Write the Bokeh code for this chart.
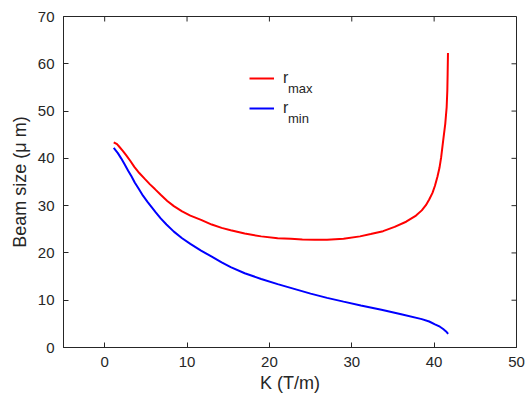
import math
from bokeh.plotting import figure
from bokeh.models import Range1d, FixedTicker, Legend, LegendItem, Label
from bokeh.embed import file_html
from bokeh.resources import INLINE

# ---- data ----
k_rmax = [1.1, 1.5, 1.8, 2.2, 2.6, 3.1, 3.6, 4.2, 4.9, 5.5, 6.1, 6.8, 7.6, 8.4, 9.4, 10.4,
          11.7, 13.0, 14.2, 15.3, 17.0, 19.0, 21.0, 22.6, 24.0, 25.5, 27.0, 29.0, 31.0, 32.3,
          33.8, 35.2, 36.6, 37.8, 38.5, 39.0, 39.4, 39.8, 40.1, 40.4, 40.65, 40.85, 41.1,
          41.35, 41.52, 41.6, 41.64, 41.68]
r_max = [43.4, 43.0, 42.4, 41.6, 40.7, 39.5, 38.2, 36.9, 35.6, 34.5, 33.5, 32.3, 31.0, 29.9, 28.8, 27.9,
         27.0, 26.0, 25.3, 24.8, 24.1, 23.5, 23.1, 23.0, 22.85, 22.8, 22.8, 23.0, 23.5, 24.0,
         24.6, 25.5, 26.6, 27.9, 29.0, 30.1, 31.3, 32.7, 34.2, 36.1, 38.0, 40.2, 43.8,
         47.3, 50.8, 54.3, 57.9, 62.3]

k_rmin = [1.1, 1.6, 2.0, 2.4, 2.85, 3.25, 3.65, 4.15, 4.65, 5.2, 5.7, 6.2, 6.8, 7.5, 8.4, 9.4,
          10.4, 11.7, 13.0, 14.2, 15.3, 17.0, 19.0, 21.0, 23.0, 25.0, 27.0, 29.0, 31.1, 33.6,
          36.0, 38.5, 39.4, 40.1, 40.7, 41.1, 41.45, 41.7]
r_min = [42.2, 41.1, 40.0, 38.8, 37.4, 36.2, 34.9, 33.5, 32.1, 30.8, 29.7, 28.6, 27.3, 26.0, 24.5, 23.1,
         21.9, 20.5, 19.2, 18.0, 17.0, 15.7, 14.5, 13.4, 12.4, 11.4, 10.5, 9.7, 8.9, 8.0,
         7.05, 6.0, 5.5, 4.9, 4.4, 3.9, 3.4, 2.9]

x_ticks = [0, 10, 20, 30, 40, 50]
y_ticks = [0, 10, 20, 30, 40, 50, 60, 70]
x_lim = (-5, 50)
y_lim = (0, 70)

AX = "#262626"
FONT = "Liberation Sans"

p = figure(width=525, height=398, output_backend="svg", toolbar_location=None,
           x_range=Range1d(*x_lim), y_range=Range1d(*y_lim),
           min_border_left=63, min_border_right=9, min_border_top=16, min_border_bottom=51,
           background_fill_color="white", border_fill_color="white")
p.outline_line_color = AX
p.outline_line_width = 1
p.xgrid.visible = False
p.ygrid.visible = False

def style(ax, ticks):
    ax.ticker = FixedTicker(ticks=ticks)
    ax.axis_line_color = AX
    ax.axis_line_width = 1
    ax.major_tick_line_color = AX
    ax.major_tick_in = 5
    ax.major_tick_out = 0
    ax.minor_tick_line_color = None
    ax.major_label_text_color = AX
    ax.major_label_text_font = FONT
    ax.major_label_text_font_size = "15px"
    ax.major_label_standoff = 9
    ax.axis_label_text_font = FONT
    ax.axis_label_text_font_size = "18px"
    ax.axis_label_text_font_style = "normal"
    ax.axis_label_text_color = AX

style(p.xaxis[0], x_ticks)
style(p.yaxis[0], y_ticks)
p.xaxis[0].axis_label = "K (T/m)"
p.yaxis[0].axis_label = "Beam size (\u03bc m)"
p.xaxis[0].axis_label_standoff = 3
p.yaxis[0].axis_label_standoff = 5

# inward ticks on the top and right edges of the box
p.ray(x=x_ticks, y=[y_lim[1]] * len(x_ticks), length=5, length_units="screen",
      angle=-math.pi / 2, line_color=AX, line_width=1)
p.ray(x=[x_lim[1]] * len(y_ticks), y=y_ticks, length=5, length_units="screen",
      angle=math.pi, line_color=AX, line_width=1)

l1 = p.line(k_rmax, r_max, line_color="#FF0000", line_width=2)
l2 = p.line(k_rmin, r_min, line_color="#0000FF", line_width=2)

legend = Legend(items=[LegendItem(label="r", renderers=[l1]),
                       LegendItem(label="r", renderers=[l2])],
                location=(186, 229), padding=0, margin=0, spacing=10,
                glyph_width=25, glyph_height=20, label_height=20, label_standoff=9,
                label_text_font=FONT, label_text_font_size="16px", label_text_color=AX,
                border_line_color=None, background_fill_alpha=0)
p.add_layout(legend)

for txt, yy in (("max", 259), ("min", 229)):
    p.add_layout(Label(x=224.5, y=yy, x_units="screen", y_units="screen", text=txt,
                       text_font=FONT, text_font_size="13px", text_color=AX,
                       text_baseline="alphabetic", text_align="left"))

open("out.html", "w").write(file_html(p, INLINE))
